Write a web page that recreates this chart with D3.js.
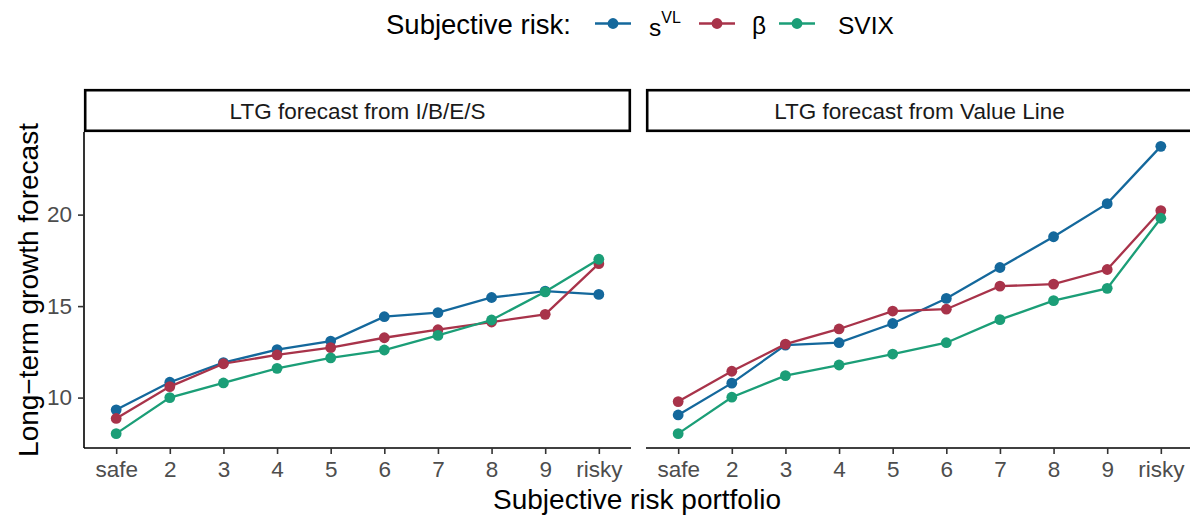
<!DOCTYPE html>
<html><head><meta charset="utf-8">
<script src="https://cdn.jsdelivr.net/npm/d3@7"></script>
<style>
html,body{margin:0;padding:0;background:#fff;}
svg{display:block;font-family:"Liberation Sans",Arial,Helvetica,sans-serif;}
</style></head>
<body><svg id="chart" width="1190" height="516"></svg>
<script>
const categories = ["safe","2","3","4","5","6","7","8","9","risky"];
const panels = ["LTG forecast from I/B/E/S","LTG forecast from Value Line"];
const seriesNames = ["sVL","beta","SVIX"];
const seriesColors = ["#14689c","#a8334a","#1b9e77"];
// I/B/E/S panel
const ibesSVL  = [9.33,10.84,11.91,12.62,13.09,14.42,14.64,15.47,15.82,15.64];
const ibesBeta = [8.86,10.6,11.85,12.33,12.73,13.27,13.71,14.13,14.55,17.32];
const ibesSVIX = [8.03,10.0,10.8,11.6,12.17,12.6,13.4,14.24,15.78,17.56];
// Value Line panel
const vlSVL  = [9.05,10.79,12.87,13.0,14.05,15.42,17.11,18.79,20.6,23.73];
const vlBeta = [9.78,11.44,12.92,13.75,14.73,14.83,16.09,16.2,17.0,20.22];
const vlSVIX = [8.03,10.02,11.2,11.78,12.38,13.0,14.26,15.3,15.97,19.8];
const yTicks = [10,15,20];

const panelData = [
  [ibesSVL, ibesBeta, ibesSVIX],
  [vlSVL, vlBeta, vlSVIX]
];

const svg = d3.select("#chart");
const pTop = 132, pBottom = 448;
const panelX = [[84,631],[646,1193]];
const stripTop = 89;
const tickFont = 22.5;

const allVals = panelData.flat(2);
const lo = d3.min(allVals), hi = d3.max(allVals), pad = (hi-lo)*0.05;
const y = d3.scaleLinear().domain([lo-pad, hi+pad]).range([pBottom, pTop]);

panelData.forEach((series, pi) => {
  const [x0,x1] = panelX[pi];
  const x = d3.scalePoint().domain(categories).range([x0,x1]).padding(0.6);
  const g = svg.append("g");
  // strip
  g.append("rect").attr("x",x0+1.2).attr("y",stripTop+1.2).attr("width",x1-x0-2.4).attr("height",pTop-stripTop-2.4)
    .attr("fill","#fff").attr("stroke","#000").attr("stroke-width",2.6);
  g.append("text").attr("x",(x0+x1)/2).attr("y",118.5).attr("text-anchor","middle")
    .attr("font-size",22.5).attr("fill","#1a1a1a").text(panels[pi]);
  // x axis
  const xa = g.append("g").attr("transform",`translate(0,${pBottom})`).call(d3.axisBottom(x).tickSize(6).tickPadding(7));
  xa.select(".domain").attr("d",`M${x0},0H${x1}`).attr("stroke","#000").attr("stroke-width",1.6);
  xa.selectAll(".tick line").attr("stroke","#333").attr("stroke-width",1.6);
  xa.selectAll(".tick text").attr("font-size",tickFont).attr("fill","#4d4d4d").attr("font-family","Liberation Sans,Arial,sans-serif");
  if (pi===0) {
    const ya = g.append("g").attr("transform",`translate(${x0},0)`).call(d3.axisLeft(y).tickValues(yTicks).tickSize(6).tickPadding(6));
    ya.select(".domain").attr("d",`M0,${pTop}V${pBottom}`).attr("stroke","#000").attr("stroke-width",1.6);
    ya.selectAll(".tick line").attr("stroke","#333").attr("stroke-width",1.6);
    ya.selectAll(".tick text").attr("font-size",tickFont).attr("fill","#4d4d4d").attr("font-family","Liberation Sans,Arial,sans-serif");
  }
  const line = d3.line().x((d,i)=>x(categories[i])).y(d=>y(d));
  series.forEach((vals, si) => {
    g.append("path").datum(vals).attr("d",line).attr("fill","none")
      .attr("stroke",seriesColors[si]).attr("stroke-width",2.3);
    g.selectAll(null).data(vals).enter().append("circle")
      .attr("cx",(d,i)=>x(categories[i])).attr("cy",d=>y(d)).attr("r",5.4).attr("fill",seriesColors[si]);
  });
});

// axis titles
svg.append("text").attr("x",(84+1190)/2).attr("y",509).attr("text-anchor","middle")
  .attr("font-size",28).attr("fill","#000").text("Subjective risk portfolio");
svg.append("text").attr("transform",`translate(38,${(pTop+pBottom)/2}) rotate(-90)`).attr("text-anchor","middle")
  .attr("font-size",28).attr("fill","#000").text("Long\u2212term growth forecast");

// legend
const lg = svg.append("g");
lg.append("text").attr("x",386).attr("y",34).attr("font-size",27.5).attr("fill","#000").text("Subjective risk:");
const keyX = [595,699,779];
const labX = [649,752,838];
seriesColors.forEach((c,i)=>{
  lg.append("line").attr("x1",keyX[i]).attr("x2",keyX[i]+36).attr("y1",23.5).attr("y2",23.5).attr("stroke",c).attr("stroke-width",2.3);
  lg.append("circle").attr("cx",keyX[i]+18).attr("cy",23.5).attr("r",5.4).attr("fill",c);
});
const t0 = lg.append("text").attr("x",labX[0]).attr("y",36).attr("font-size",24.5).attr("fill","#000");
t0.append("tspan").text("s");
t0.append("tspan").attr("dy",-13).attr("font-size",16).text("VL");
lg.append("text").attr("x",labX[1]).attr("y",34).attr("font-size",24.5).attr("fill","#000").text("\u03b2");
lg.append("text").attr("x",labX[2]).attr("y",34).attr("font-size",24.5).attr("fill","#000").text("SVIX");
</script></body></html>
